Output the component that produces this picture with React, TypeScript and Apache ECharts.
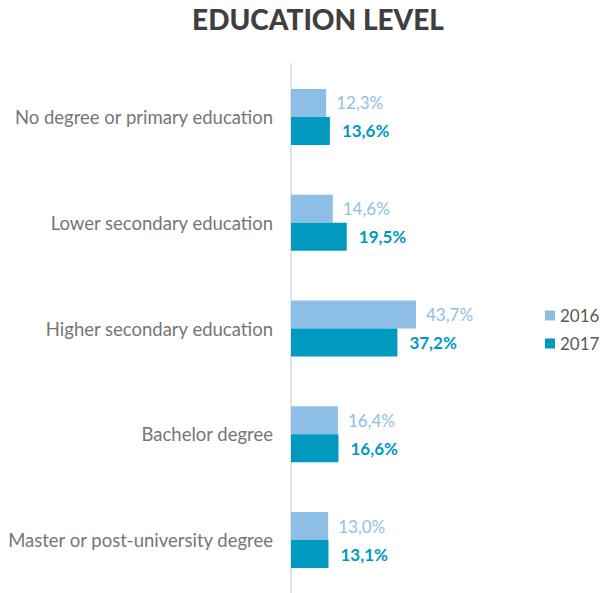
import React, { useEffect, useRef } from "react";
import * as echarts from "echarts";

const categories = [
  "No degree or primary education",
  "Lower secondary education",
  "Higher secondary education",
  "Bachelor degree",
  "Master or post-university degree",
];
const seriesNames = ["2016", "2017"];
const values2016 = [12.3, 14.6, 43.7, 16.4, 13.0];
const values2017 = [13.6, 19.5, 37.2, 16.6, 13.1];

const fmt = (v: number) => v.toFixed(1).replace(".", ",") + "%";
const FONT = "Lato, 'Open Sans', sans-serif";

export default function App() {
  const ref = useRef<HTMLDivElement>(null);
  useEffect(() => {
    if (!ref.current) return;
    const chart = echarts.init(ref.current, undefined, { renderer: "svg" });
    chart.setOption({
      animation: false,
      backgroundColor: "#ffffff",
      title: {
        text: "EDUCATION LEVEL",
        left: 313,
        top: 0,
        textAlign: "center",
        textStyle: {
          fontFamily: FONT,
          fontWeight: 900,
          fontSize: 28,
          color: "#3f3f3f",
        },
      },
      legend: {
        orient: "vertical",
        left: 540,
        top: 302,
        itemWidth: 10,
        itemHeight: 10,
        itemGap: 11,
        icon: "rect",
        data: seriesNames,
        textStyle: { fontFamily: FONT, fontSize: 17, color: "#595959" },
      },
      grid: { left: 291, top: 64, width: 286, height: 532.5 },
      xAxis: {
        type: "value",
        min: 0,
        max: 100,
        show: false,
      },
      yAxis: {
        type: "category",
        inverse: true,
        data: categories,
        axisLine: { show: true, lineStyle: { color: "#e4e4e4", width: 2 } },
        axisTick: { show: false },
        axisLabel: {
          margin: 18,
          fontFamily: FONT,
          fontSize: 18.5,
          color: "#767676",
        },
      },
      series: [
        {
          name: seriesNames[0],
          type: "bar",
          data: values2016,
          barWidth: 28,
          barGap: "0%",
          itemStyle: { color: "#8DBFE6" },
          label: {
            show: true,
            position: "right",
            distance: 10,
            formatter: (p: any) => fmt(p.value),
            fontFamily: FONT,
            fontSize: 17,
            color: "#8DBFE6",
          },
        },
        {
          name: seriesNames[1],
          type: "bar",
          data: values2017,
          barWidth: 28,
          barGap: "0%",
          itemStyle: { color: "#009AC1" },
          label: {
            show: true,
            position: "right",
            distance: 12,
            formatter: (p: any) => fmt(p.value),
            fontFamily: FONT,
            fontSize: 17,
            fontWeight: "bold",
            color: "#009AC1",
          },
        },
      ],
    });
    return () => chart.dispose();
  }, []);
  return (
    <div
      ref={ref}
      style={{ position: "fixed", left: 0, top: 0, width: 603, height: 593 }}
    />
  );
}
